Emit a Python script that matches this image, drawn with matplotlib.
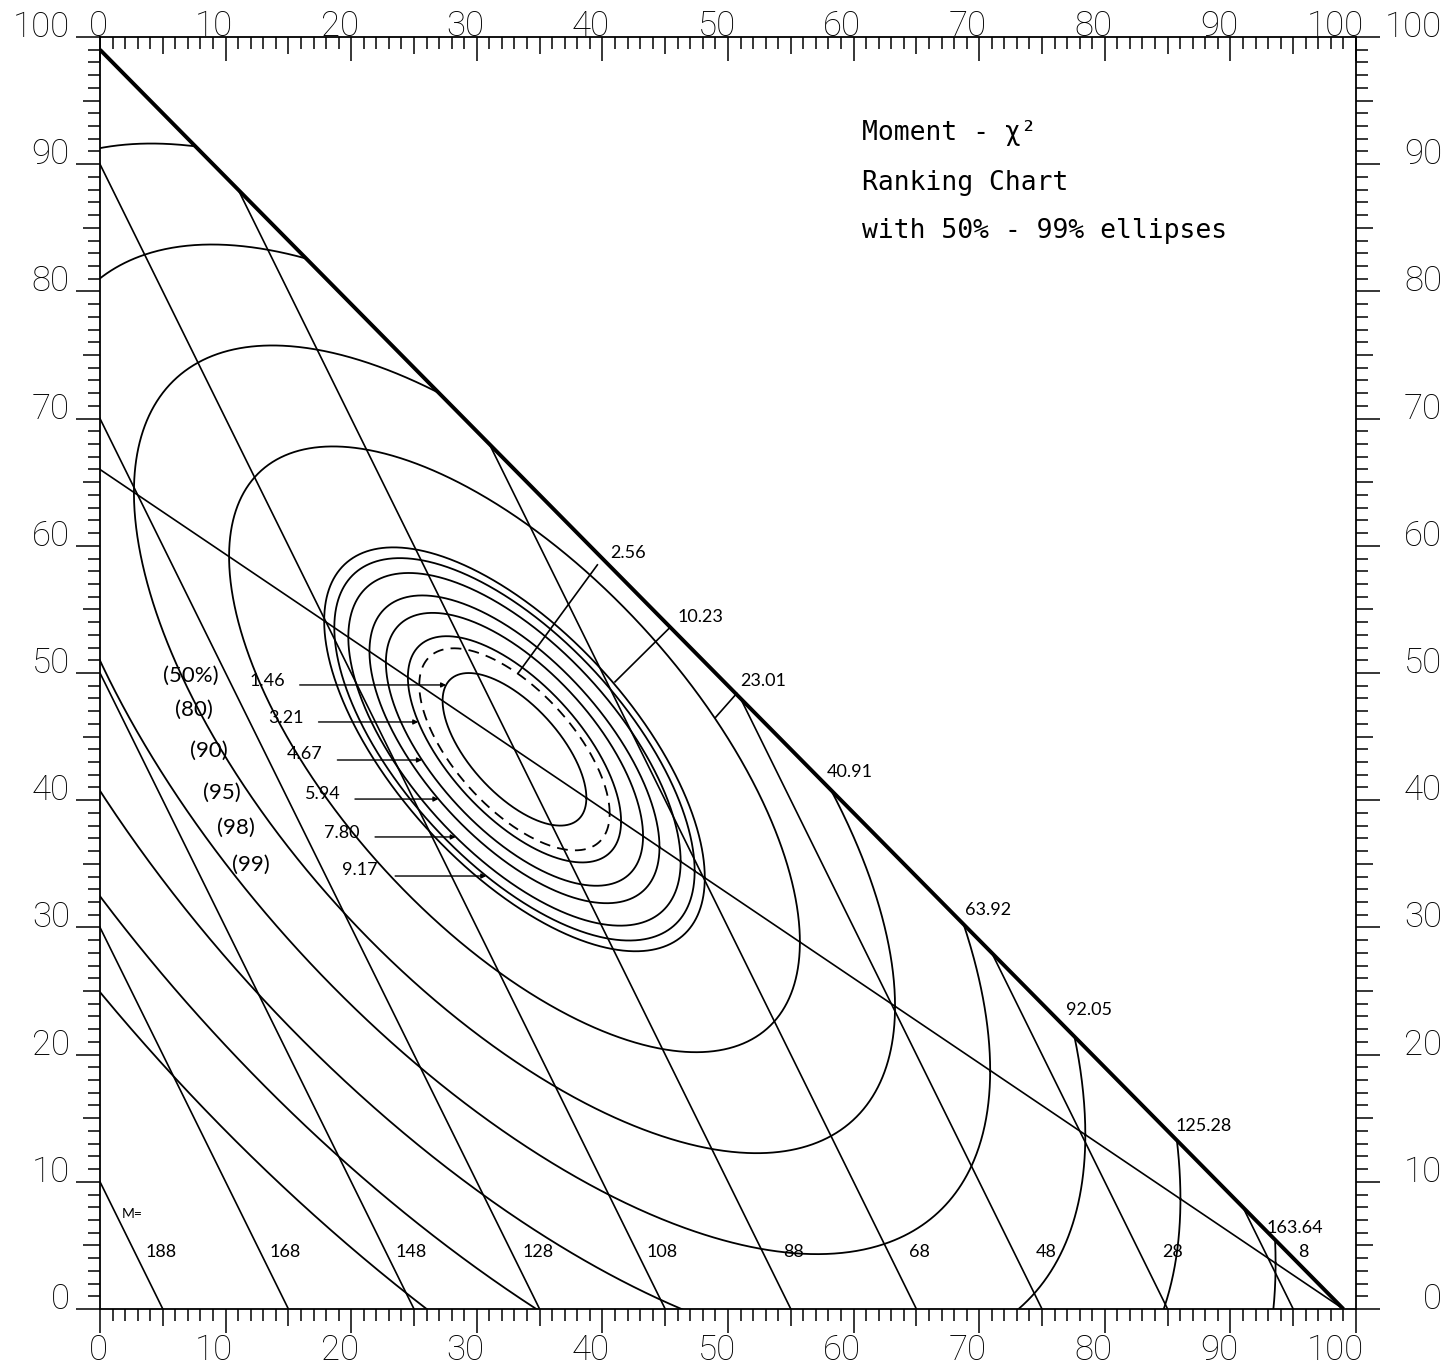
import numpy as np
import matplotlib
matplotlib.use("Agg")
import matplotlib.pyplot as plt
from matplotlib.patches import Polygon
from matplotlib.markers import TICKDOWN, TICKLEFT, TICKRIGHT

# ---------------- data ----------------
# expected distribution of the three rank categories (percent)
expected_pct = [34.0, 44.0, 22.0]
sample_size = 100.0
# chi-square contour levels (k^2 * 2.557) and their labels
chi2_levels = [2.56, 10.23, 23.01, 40.91, 63.92, 92.05, 125.28, 163.64]
chi2_labels = ["2.56", "10.23", "23.01", "40.91", "63.92", "92.05", "125.28", "163.64"]
# confidence ellipses
conf_levels = [1.46, 3.21, 4.67, 5.94, 7.80, 9.17]
conf_level_labels = ["1.46", "3.21", "4.67", "5.94", "7.80", "9.17"]
conf_pct_labels = ["(50%)", "(80)", "(90)", "(95)", "(98)", "(99)"]
conf_arrow_y = [49.06, 46.15, 43.16, 40.09, 37.11, 34.04]
# moment lines  M = 1*p2 + 2*p3
moment_values = [188, 168, 148, 128, 108, 88, 68, 48, 28, 8]
axis_tick_values = list(range(0, 101, 10))
axis_tick_labels = [str(v) for v in axis_tick_values]

# ---------------- layout ----------------
X_REG = 1.0  # registration offset of the plotted x scale on the original chart
chi2_label_pos = [(40.6, 59.4), (46.0, 54.4), (51.0, 49.4), (57.9, 42.2),
                  (68.9, 31.4), (76.9, 23.5), (85.6, 14.4), (92.9, 6.4)]
chi2_leaders = [((39.6, 58.5), (33.3, 50.0)),
                ((45.4, 53.6), (41.0, 49.3)),
                ((50.7, 48.4), (49.0, 46.5))]
conf_pct_x = [5.0, 6.0, 7.2, 8.2, 9.3, 10.5]
conf_pct_y = [49.8, 47.1, 43.9, 40.6, 37.8, 34.9]
conf_lab_x = [11.9, 13.4, 14.9, 16.3, 17.8, 19.3]
conf_lab_y = [49.4, 46.5, 43.6, 40.5, 37.4, 34.5]
conf_arrow_x0 = [15.9, 17.4, 18.9, 20.3, 21.9, 23.5]
moment_label_x = [3.6, 13.5, 23.5, 33.6, 43.5, 54.4, 64.4, 74.5, 84.6, 95.4]
moment_label_y = 4.5

FONT = "Lato"
TICKFONT = "Roboto"
W, H = 1453, 1365
fig = plt.figure(figsize=(W / 100, H / 100), dpi=100)
ax = fig.add_axes([100 / W, 56 / H, 1256 / W, 1272 / H])
ax.set_xlim(0, 100)
ax.set_ylim(0, 100)
ax.tick_params(length=0, labelbottom=False, labelleft=False)
for s in ax.spines.values():
    s.set_linewidth(1.3)

E1, E2, E3 = expected_pct
N = sample_size
Sigma = np.array([[E1 * (N - E1) / N, -E1 * E2 / N],
                  [-E1 * E2 / N, E2 * (N - E2) / N]])
Lc = np.linalg.cholesky(Sigma)
t = np.linspace(0, 2 * np.pi, 1441)
circ = np.vstack([np.cos(t), np.sin(t)])

tri = Polygon([[0, 0], [0, N - X_REG], [N - X_REG, 0]], closed=True,
              transform=ax.transData, facecolor="none", edgecolor="none")
ax.add_patch(tri)

def ellipse(level):
    d = Lc @ circ * np.sqrt(level)
    return E1 + d[0] - X_REG, E2 + d[1]

all_levels = sorted(set(chi2_levels + conf_levels))
for lev in all_levels:
    ex, ey = ellipse(lev)
    ls = (0, (6, 4)) if lev == chi2_levels[0] else "-"
    ln, = ax.plot(ex, ey, color="black", lw=1.3, ls=ls)
    ln.set_clip_path(tri)

# moment lines: y = 2N - 2x' - M
xs = np.linspace(-2, 102, 3)
for M in moment_values:
    ln, = ax.plot(xs, 2 * N - 2 * (xs + X_REG) - M, color="black", lw=1.2)
    ln.set_clip_path(tri)

# line of constant p2:p3 ratio through the expected point
xr = np.array([X_REG, N])
ax.plot(xr - X_REG, E2 / (E2 + E3) * (N - xr), color="black", lw=1.2)

# hypotenuse p3 = 0
ax.plot([0, N - X_REG], [N - X_REG, 0], color="black", lw=2.8, solid_capstyle="butt")

# ---------------- labels ----------------
for (px, py), lab in zip(chi2_label_pos, chi2_labels):
    ax.text(px, py, lab, fontsize=13, family=FONT, ha="left", va="center")
for (p0, p1) in chi2_leaders:
    ax.plot([p0[0], p1[0]], [p0[1], p1[1]], color="black", lw=1.2)

for lev, lab, pct, yv, x0, lx, ly, qx, qy in zip(conf_levels, conf_level_labels, conf_pct_labels,
                                                  conf_arrow_y, conf_arrow_x0, conf_lab_x, conf_lab_y,
                                                  conf_pct_x, conf_pct_y):
    d2 = yv - E2
    a = 1 / E1 + 1 / E3
    b = 2 * d2 / E3
    c = d2 ** 2 * (1 / E2 + 1 / E3) - lev
    u = (-b - np.sqrt(b * b - 4 * a * c)) / (2 * a)
    xtip = E1 + u - X_REG
    ax.annotate("", xy=(xtip, yv), xytext=(x0, yv),
                arrowprops=dict(arrowstyle="-|>", lw=1.0, color="black",
                                mutation_scale=7, shrinkA=0, shrinkB=0))
    ax.text(lx, ly, lab, fontsize=13, family=FONT, ha="left", va="center")
    ax.text(qx, qy, pct, fontsize=16, family=FONT, ha="left", va="center")

ax.text(1.75, 7.5, "M=", fontsize=10, family=FONT, ha="left", va="center")
for M, mx in zip(moment_values, moment_label_x):
    ax.text(mx, moment_label_y, str(M), fontsize=13, family=FONT, ha="left", va="center")

mono = "DejaVu Sans Mono"
ax.text(60.7, 91.9, "Moment - χ²", fontsize=19, family=mono, va="baseline")
ax.text(60.7, 88.0, "Ranking Chart", fontsize=19, family=mono, va="baseline")
ax.text(60.7, 84.2, "with 50% - 99% ellipses", fontsize=19, family=mono, va="baseline")

# ---------------- ruler ticks ----------------
vals = np.arange(0, 101)
groups = [(vals[vals % 10 == 0], 17), (vals[(vals % 5 == 0) & (vals % 10 != 0)], 12.5),
          (vals[vals % 5 != 0], 8.5)]
xt = ax.get_xaxis_transform()
yt = ax.get_yaxis_transform()
for v, L in groups:
    kw = dict(ls="none", color="black", mew=1.1, markersize=L, clip_on=False)
    ax.plot(v, np.zeros_like(v), marker=TICKDOWN, transform=xt, **kw)
    ax.plot(v, np.ones_like(v), marker=TICKDOWN, transform=xt, **kw)
    ax.plot(np.zeros_like(v), v, marker=TICKLEFT, transform=yt, **kw)
    ax.plot(np.ones_like(v), v, marker=TICKRIGHT, transform=yt, **kw)

tk = dict(fontsize=25, family=TICKFONT, fontweight="light", color="black", clip_on=False)
for v, lab in zip(axis_tick_values, axis_tick_labels):
    ax.text(-2.4, v, lab, ha="right", va="baseline", **tk)
    ax.text(106.85, v, lab, ha="right", va="baseline", **tk)
    ax.text(v + 0.6, -4.0, lab, ha="right", va="baseline", **tk)
    ax.text(v + 0.6, 100.1, lab, ha="right", va="baseline", **tk)

fig.savefig("out.png", dpi=100, facecolor="white")
